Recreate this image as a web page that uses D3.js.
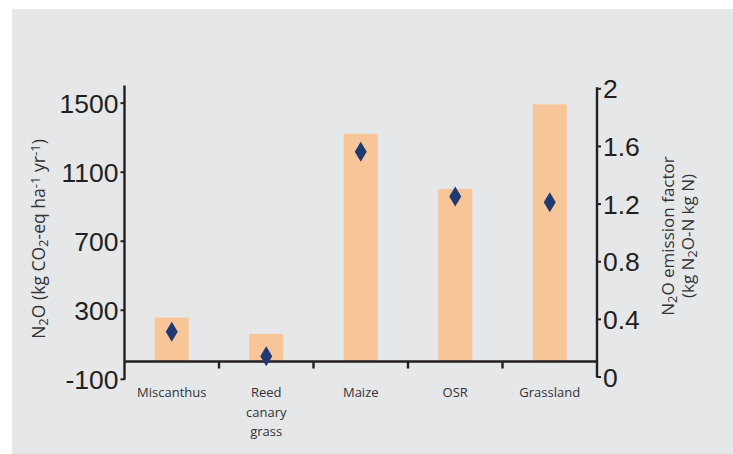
<!DOCTYPE html>
<html>
<head>
<meta charset="utf-8">
<script src="https://cdn.jsdelivr.net/npm/d3@7"></script>
<style>
  html, body { margin: 0; padding: 0; background: #ffffff; }
  svg { display: block; font-family: "Open Sans", "Noto Sans", sans-serif; }
</style>
</head>
<body>
<svg id="chart" width="733" height="454"></svg>
<script>
// Crop categories (multi-line labels split on "\n")
const categories = ["Miscanthus", "Reed\ncanary\ngrass", "Maize", "OSR", "Grassland"];
// Annual N2O emissions, kg CO2-eq ha-1 yr-1 (bars, left axis)
const emissions = [255, 160, 1320, 1000, 1490];
// N2O emission factor, kg N2O-N per kg N (diamonds, right axis)
const emissionFactor = [0.31, 0.14, 1.56, 1.25, 1.21];
// Axis ticks
const leftTicks = [-100, 300, 700, 1100, 1500];
const rightTicks = [0, 0.4, 0.8, 1.2, 1.6, 2];

const svg = d3.select("#chart");
const ink = "#231f20";
const barColor = "#f8c598";
const diamondColor = "#1f3a70";

// panel background
svg.append("rect")
  .attr("x", 12).attr("y", 9)
  .attr("width", 733 - 12).attr("height", 454 - 9)
  .attr("fill", "#e6e7e9");

const plotLeft = 124.5, plotRight = 597;

const x = d3.scaleBand()
  .domain(categories)
  .range([plotLeft, plotRight])
  .paddingInner(0.64)
  .paddingOuter(0.32);

const yL = d3.scaleLinear().domain([-100, 1600]).range([378.8, 85.4]);
const yR = d3.scaleLinear().domain([0, 2]).range([376.5, 88.3]);

// bars
svg.append("g").selectAll("rect")
  .data(categories)
  .join("rect")
  .attr("x", d => x(d))
  .attr("width", x.bandwidth())
  .attr("y", (d, i) => yL(emissions[i]))
  .attr("height", (d, i) => yL(0) - yL(emissions[i]))
  .attr("fill", barColor);

// left axis
const leftAxis = svg.append("g")
  .attr("transform", `translate(${plotLeft},0)`)
  .call(d3.axisLeft(yL).tickValues(leftTicks).tickSize(4).tickPadding(2)
    .tickFormat(d => String(d)).tickSizeOuter(0));
leftAxis.select(".domain").remove();
leftAxis.append("line")
  .attr("x1", 0).attr("x2", 0)
  .attr("y1", yL(1600)).attr("y2", yL(-100) + 1)
  .attr("stroke", ink).attr("stroke-width", 2.4);
leftAxis.selectAll(".tick line").attr("stroke", ink).attr("stroke-width", 2);
leftAxis.selectAll(".tick text")
  .attr("fill", ink).attr("font-size", 26.5).attr("dy", "0.36em");

// right axis
const rightAxis = svg.append("g")
  .attr("transform", `translate(${plotRight},0)`)
  .call(d3.axisRight(yR).tickValues(rightTicks).tickSize(4).tickPadding(2)
    .tickFormat(d => String(d)).tickSizeOuter(0));
rightAxis.select(".domain").remove();
rightAxis.append("line")
  .attr("x1", 0).attr("x2", 0)
  .attr("y1", yR(2) - 1).attr("y2", yR(0) + 1)
  .attr("stroke", ink).attr("stroke-width", 2.4);
rightAxis.selectAll(".tick line").attr("stroke", ink).attr("stroke-width", 2);
rightAxis.selectAll(".tick text")
  .attr("fill", ink).attr("font-size", 26.5).attr("dy", "0.36em");

// category baseline with tick marks between groups
const baseY = yL(0);
const xAxis = svg.append("g").attr("transform", `translate(0,${baseY})`);
xAxis.append("line")
  .attr("x1", plotLeft).attr("x2", plotRight)
  .attr("stroke", ink).attr("stroke-width", 2.6);
const step = x.step();
const bounds = categories.slice(1).map(c => x(c) - (step - x.bandwidth()) / 2);
xAxis.selectAll(".sep")
  .data(bounds)
  .join("line")
  .attr("class", "sep")
  .attr("x1", d => d).attr("x2", d => d)
  .attr("y1", 0).attr("y2", 7)
  .attr("stroke", ink).attr("stroke-width", 2.4);

// category labels
const catLabels = svg.append("g");
categories.forEach(c => {
  const t = catLabels.append("text")
    .attr("x", x(c) + x.bandwidth() / 2)
    .attr("y", 397)
    .attr("text-anchor", "middle")
    .attr("font-size", 13)
    .attr("fill", "#333333");
  c.split("\n").forEach((line, j) => {
    t.append("tspan")
      .attr("x", x(c) + x.bandwidth() / 2)
      .attr("dy", j === 0 ? 0 : 19.5)
      .text(line);
  });
});

// diamonds
const diamond = "M0,-10 L6,0 L0,10 L-6,0 Z";
svg.append("g").selectAll("path")
  .data(categories)
  .join("path")
  .attr("d", diamond)
  .attr("transform", (d, i) => `translate(${x(d) + x.bandwidth() / 2},${yR(emissionFactor[i])})`)
  .attr("fill", diamondColor);

// axis titles with sub/superscripts
function richText(sel, parts) {
  parts.forEach(p => {
    const ts = sel.append("tspan").text(p.t);
    if (p.sub) ts.attr("baseline-shift", "-25%").attr("font-size", "75%");
    if (p.sup) ts.attr("baseline-shift", "40%").attr("font-size", "75%");
  });
}

const leftTitle = svg.append("text")
  .attr("transform", "translate(45,239) rotate(-90)")
  .attr("text-anchor", "middle")
  .attr("font-size", 17.5)
  .attr("fill", "#333333");
richText(leftTitle, [
  { t: "N" }, { t: "2", sub: true }, { t: "O (kg CO" }, { t: "2", sub: true },
  { t: "-eq ha" }, { t: "-1", sup: true }, { t: " yr" }, { t: "-1", sup: true }, { t: ")" }
]);

const rightTitle1 = svg.append("text")
  .attr("transform", "translate(674,236) rotate(-90)")
  .attr("text-anchor", "middle")
  .attr("font-size", 17)
  .attr("fill", "#333333");
richText(rightTitle1, [{ t: "N" }, { t: "2", sub: true }, { t: "O emission factor" }]);

const rightTitle2 = svg.append("text")
  .attr("transform", "translate(694,236) rotate(-90)")
  .attr("text-anchor", "middle")
  .attr("font-size", 17)
  .attr("fill", "#333333");
richText(rightTitle2, [{ t: "(kg N" }, { t: "2", sub: true }, { t: "O-N kg N)" }]);
</script>
</body>
</html>
